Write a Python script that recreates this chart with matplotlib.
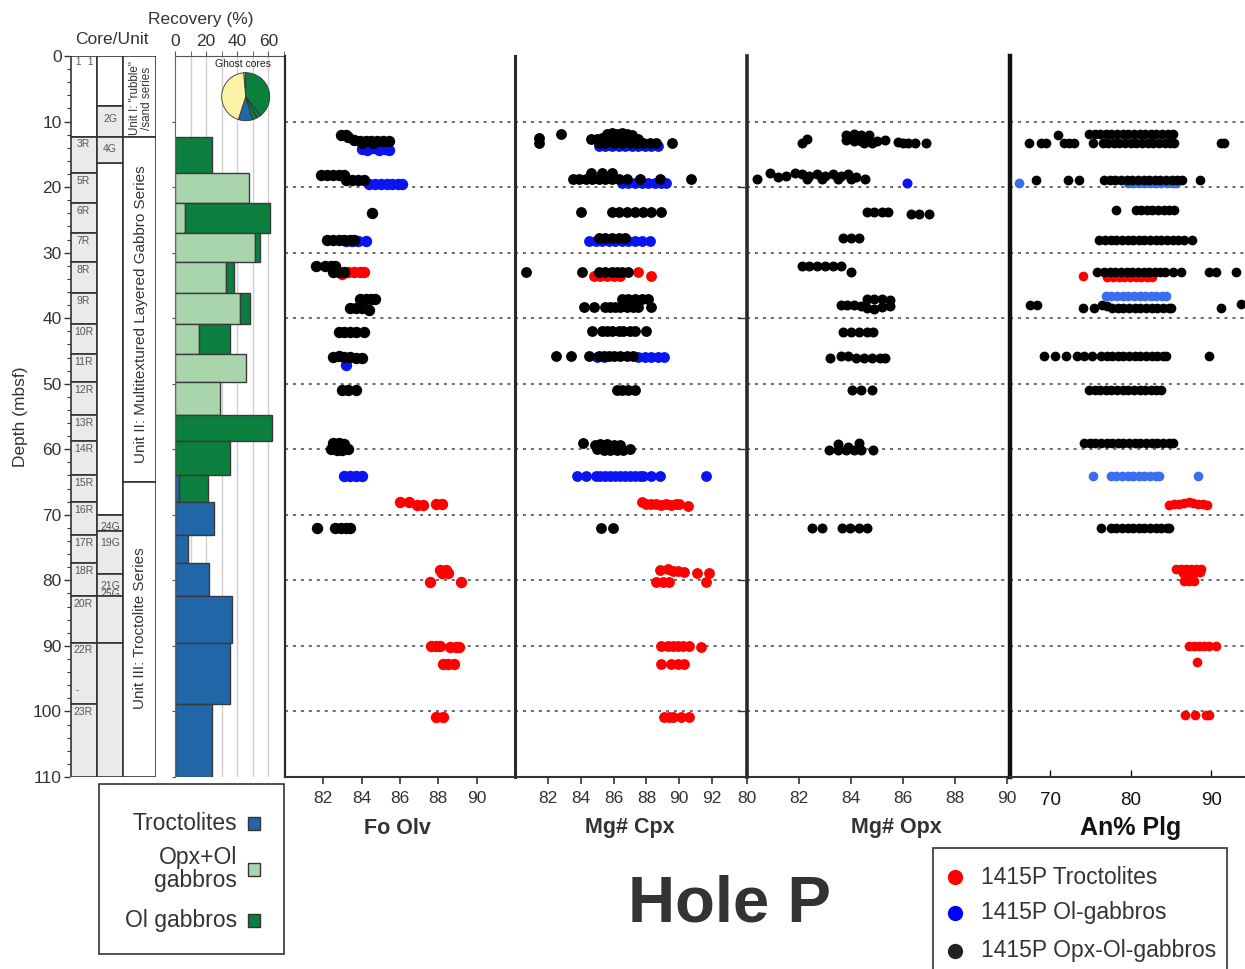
import matplotlib
matplotlib.use('Agg')
import matplotlib.pyplot as plt
from matplotlib.patches import Rectangle

plt.rcParams['font.family'] = ['Liberation Sans', 'DejaVu Sans']

# ---------------- data ----------------
core_names = ['3R', '5R', '6R', '7R', '8R', '9R', '10R', '11R', '12R', '13R', '14R',
              '15R', '16R', '17R', '18R', '20R', '22R', '23R']
core_tops = [12.3, 17.9, 22.5, 26.95, 31.4, 36.2, 40.9, 45.5, 49.7, 54.8, 58.8,
             63.9, 68.0, 73.1, 77.4, 82.4, 89.5, 98.9]
hole_bottom = 110.0

rec_troct = [0, 0, 0, 0, 0, 0, 0, 0, 0, 0, 0, 2.6, 25.2, 8.6, 22.1, 36.6, 35.0, 23.7]
rec_opxol = [0, 47.3, 6.5, 51.6, 32.7, 41.9, 15.5, 45.6, 29.0, 0, 0, 0, 0, 0, 0, 0, 0, 0]
rec_olgab = [23.7, 0, 54.3, 3.2, 5.3, 6.5, 20.0, 0, 0, 62.4, 35.0, 18.4, 0, 0, 0, 0, 0, 0]

ghost_names = ['2G', '4G', '24G', '19G', '21G\n25G', '', '']
ghost_tops = [7.7, 12.3, 70.0, 72.4, 79.0, 82.4, 89.5]
ghost_bots = [12.3, 16.3, 72.4, 79.0, 82.4, 89.5, 110.0]

unit_names = ['Unit I: "rubble"\n/sand series',
              'Unit II: Multitextured Layered Gabbro Series',
              'Unit III: Troctolite Series']
unit_tops = [0.0, 12.3, 65.0]
unit_bots = [12.3, 65.0, 110.0]

ghost_pie = [5, 142, 10, 12, 34, 157]

# Fo Olv
olv_red_x = [83.0, 83.3, 83.6, 83.9, 84.1, 86.0, 86.45, 86.9, 87.2, 87.9, 88.2,
             88.1, 88.4, 88.2, 88.5, 87.55, 89.2, 87.6, 87.9, 88.1, 88.6, 88.9, 89.1,
             88.25, 88.5, 88.8, 87.9, 88.25]
olv_red_d = [33.3, 33.0, 33.0, 33.0, 33.0, 68.1, 68.1, 68.5, 68.5, 68.3, 68.3,
             78.4, 78.4, 78.9, 78.9, 80.2, 80.2, 90.0, 90.0, 90.0, 90.2, 90.2, 90.2,
             92.75, 92.75, 92.75, 100.8, 100.8]
olv_blue_x = [84.0, 84.3, 84.6, 84.9, 85.2, 85.4, 84.4, 84.7, 85.0, 85.3, 85.6, 85.9, 86.1,
              83.2, 83.5, 83.8, 84.2, 83.2, 83.1, 83.4, 83.7, 84.0]
olv_blue_d = [14.2, 14.3, 14.1, 14.3, 14.2, 14.3, 19.5, 19.5, 19.5, 19.5, 19.5, 19.5, 19.5,
              28.3, 28.3, 28.3, 28.3, 47.1, 64.1, 64.1, 64.1, 64.1]
olv_blk_x = [82.9, 83.2, 83.3, 83.6, 83.9, 84.2, 84.5, 84.8, 85.1, 85.4, 84.0, 84.6,
             81.9, 82.2, 82.5, 82.8, 83.1, 83.2, 83.5, 83.8, 84.1,
             84.55, 82.2, 82.5, 82.8, 83.1, 83.4, 83.6,
             81.6, 82.1, 82.4, 82.6, 82.5, 82.8, 83.1,
             83.9, 84.2, 84.5, 84.7, 83.4, 83.7, 84.0, 84.4,
             82.8, 83.1, 83.4, 83.7, 84.1,
             82.5, 82.8, 83.1, 83.4, 83.7, 84.0,
             83.0, 83.3, 83.7,
             82.5, 82.8, 83.1, 82.4, 82.7, 83.0, 83.3,
             81.65, 82.6, 82.9, 83.2, 83.4]
olv_blk_d = [12.0, 12.0, 12.4, 12.8, 13.0, 13.0, 13.0, 13.0, 13.0, 12.9, 13.3, 13.3,
             18.2, 18.2, 18.2, 18.2, 18.2, 18.9, 18.9, 18.9, 18.9,
             24.0, 28.0, 28.0, 28.0, 28.0, 28.0, 28.0,
             32.0, 32.0, 32.0, 32.0, 33.0, 33.0, 33.0,
             37.1, 37.1, 37.1, 37.1, 38.5, 38.5, 38.5, 38.7,
             42.1, 42.1, 42.1, 42.1, 42.1,
             45.9, 45.7, 45.9, 45.9, 46.1, 46.1,
             51.0, 51.0, 51.0,
             59.1, 59.1, 59.2, 60.0, 60.1, 60.1, 60.0,
             72.06, 72.06, 72.06, 72.06, 72.06]

# Mg# Cpx
cpx_red_x = [84.8, 85.2, 85.6, 86.0, 86.4, 87.5, 88.25,
             87.7, 88.0, 88.3, 88.6, 88.9, 89.2, 89.5, 89.8, 90.0, 90.5,
             88.8, 89.3, 89.6, 89.9, 90.3, 91.05, 91.8, 88.6, 89.0, 89.4, 91.6,
             88.9, 89.3, 89.6, 89.9, 90.2, 90.6, 91.35,
             88.9, 89.5, 89.9, 90.3, 89.1, 89.4, 89.6, 90.1, 90.6]
cpx_red_d = [33.56, 33.56, 33.56, 33.56, 33.56, 32.9, 33.5,
             68.1, 68.3, 68.3, 68.4, 68.5, 68.3, 68.5, 68.3, 68.4, 68.6,
             78.4, 78.3, 78.6, 78.5, 78.7, 78.9, 78.9, 80.2, 80.2, 80.2, 80.2,
             90.0, 90.0, 90.0, 90.0, 90.0, 90.0, 90.2,
             92.75, 92.75, 92.75, 92.75, 100.8, 100.8, 100.8, 100.8, 100.8]
cpx_blue_x = [85.1, 85.5, 85.9, 86.3, 86.7, 87.1, 87.5, 87.9, 88.3, 88.7,
              86.5, 86.9, 87.3, 87.7, 88.1, 88.5, 88.9, 89.2,
              84.5, 84.9, 85.3, 85.7, 86.1, 86.5, 86.9, 87.3, 87.7, 88.2,
              85.0, 85.4, 87.5, 87.9, 88.3, 88.7, 89.1,
              83.75, 84.3, 84.9, 85.2, 85.5, 85.8, 86.1, 86.4, 86.7, 87.0, 87.3, 87.6,
              87.8, 88.3, 88.8, 91.65]
cpx_blue_d = [13.8] * 10 + [19.3] * 8 + [28.17] * 10 + [45.9] * 7 + [64.1] * 16
cpx_blk_x = [81.47, 81.47, 82.83,
             85.6, 85.9, 86.2, 86.5, 86.8, 87.1,
             84.6, 85.0, 85.3, 85.6, 86.0, 86.3, 86.6, 86.9, 87.2, 87.5,
             85.1, 85.5, 86.0, 86.5, 87.0, 87.4, 87.8, 88.2, 88.6, 89.55,
             84.6, 85.3, 85.9,
             83.5, 83.9, 84.3, 84.7, 85.1, 85.5, 85.9, 86.3, 86.8, 87.6, 88.8, 90.7,
             84.0, 85.9, 86.3, 86.8, 87.3, 87.8, 88.3, 88.9,
             85.1, 85.5, 85.9, 86.3, 86.7,
             80.65, 84.1, 85.1, 85.5, 85.9, 86.2, 86.5, 86.9,
             86.5, 86.9, 87.3, 87.7, 88.1,
             84.2, 84.8, 85.5, 85.8, 86.1, 86.4, 86.8, 87.2, 87.5, 88.3,
             84.7, 85.3, 85.6, 85.9, 86.3, 86.6, 87.0, 87.3, 88.0,
             82.5, 83.4, 84.5, 85.1, 85.4, 85.7, 86.0, 86.4, 86.8, 87.2,
             86.2, 86.5, 86.9, 87.3,
             84.16, 84.85, 85.2, 85.6, 86.0, 86.4, 85.0, 85.4, 85.8, 86.2, 86.6, 87.0,
             85.25, 85.95]
cpx_blk_d = [12.56, 13.2, 11.9,
             11.9, 11.8, 11.9, 11.8, 11.9, 12.0,
             12.6, 12.6, 12.5, 12.6, 12.5, 12.6, 12.5, 12.6, 12.5, 12.6,
             13.2, 13.2, 13.2, 13.2, 13.2, 13.2, 13.2, 13.2, 13.2, 13.2,
             17.9, 17.9, 17.9,
             18.76, 18.76, 18.76, 18.76, 18.76, 18.76, 18.76, 18.76, 18.76, 18.76, 18.76, 18.76,
             23.85, 23.85, 23.85, 23.85, 23.85, 23.85, 23.85, 23.85,
             27.8, 27.8, 27.8, 27.8, 27.8,
             32.9, 32.9, 32.9, 32.9, 32.9, 32.9, 32.9, 32.9,
             37.0, 37.0, 37.0, 37.0, 37.0,
             38.3, 38.3, 38.3, 38.3, 38.3, 38.3, 38.3, 38.3, 38.3, 38.3,
             42.0, 42.0, 42.0, 42.0, 42.0, 42.0, 42.0, 42.0, 42.0,
             45.8, 45.8, 45.8, 45.8, 45.8, 45.8, 45.8, 45.8, 45.8, 45.8,
             50.95, 50.95, 50.95, 50.95,
             59.1, 59.4, 59.2, 59.2, 59.3, 59.3, 60.0, 60.1, 60.1, 60.1, 60.1, 60.0,
             72.06, 72.06]

# Mg# Opx
opx_blue_x = [86.17]
opx_blue_d = [19.3]
opx_blk_x = [82.1, 82.3,
             83.8, 84.1, 84.4, 84.7, 83.8, 84.1, 84.4, 84.7, 85.0, 85.3, 84.5, 84.8,
             85.8, 86.0, 86.2, 86.45, 86.9,
             80.4, 80.9, 81.2, 81.5, 81.85, 82.1, 82.4, 82.7, 83.0, 83.3, 83.6, 83.9, 84.2,
             84.54, 82.3, 82.9, 83.5, 84.0,
             84.6, 84.9, 85.2, 85.43, 86.3, 86.6, 87.0,
             83.7, 84.0, 84.3,
             82.1, 82.4, 82.7, 83.0, 83.3, 83.6, 84.0,
             83.6, 83.85, 84.1, 84.4, 84.6, 84.9, 85.2, 85.5, 84.6, 84.9, 85.2, 85.5,
             83.7, 84.0, 84.3, 84.6, 84.86,
             83.2, 83.6, 83.9, 84.2, 84.5, 84.8, 85.1, 85.3,
             84.05, 84.4, 84.8,
             83.15, 83.5, 83.8, 84.1, 84.4, 84.85, 83.5, 84.3, 83.9,
             82.5, 82.9, 83.65, 83.95, 84.3, 84.6]
opx_blk_d = [13.2, 12.6,
             12.0, 11.9, 12.0, 12.1, 12.8, 12.9, 12.9, 13.0, 12.9, 12.8, 13.2, 13.2,
             13.1, 13.2, 13.2, 13.2, 13.2,
             18.8, 17.9, 18.5, 18.3, 17.9, 18.0, 18.3, 18.0, 18.3, 18.0, 18.3, 18.0, 18.4,
             18.8, 18.8, 18.8, 18.8, 18.8,
             23.85, 23.85, 23.85, 23.85, 24.1, 24.1, 24.1,
             27.8, 27.8, 27.8,
             32.0, 32.0, 32.0, 32.0, 32.0, 32.0, 32.9,
             38.0, 38.0, 38.0, 38.2, 37.1, 37.0, 37.0, 37.2, 38.4, 38.6, 38.3, 38.1,
             42.06, 42.06, 42.06, 42.06, 42.06,
             46.1, 45.8, 45.8, 46.0, 46.1, 46.1, 46.1, 46.1,
             50.95, 50.95, 50.95,
             60.1, 60.1, 60.1, 60.1, 60.1, 60.1, 59.2, 59.1, 59.6,
             72.06, 72.06, 72.06, 72.06, 72.06, 72.06]

# An% Plg
plg_red_x = [74.1, 77.1, 77.8, 78.5, 79.2, 79.9, 80.6, 81.3, 82.0, 82.7,
             84.8, 85.4, 86.0, 86.6, 87.2, 87.8, 88.4, 89.0, 89.5,
             85.6, 86.3, 86.9, 87.5, 88.1, 88.7, 86.5, 87.2, 87.9, 88.6,
             86.65, 87.3, 87.9,
             87.3, 87.9, 88.5, 89.1, 89.7, 90.6, 88.2,
             86.7, 87.97, 89.3, 89.75]
plg_red_d = [33.56] + [33.66] * 9 + \
            [68.5, 68.4, 68.3, 68.2, 68.1, 68.2, 68.3, 68.4, 68.5] + \
            [78.2, 78.2, 78.3, 78.2, 78.3, 78.2, 78.9, 78.9, 78.9, 78.8] + \
            [80.05] * 3 + [90.0] * 6 + [92.5] + [100.6] * 4
plg_blue_x = [66.15, 79.6, 80.3, 81.0, 81.7, 82.4, 83.1, 83.8, 84.5, 85.2, 85.6,
              76.9, 77.6, 78.3, 79.0, 79.7, 80.4, 81.1, 81.8, 82.5, 83.2, 83.9, 84.4,
              75.3, 77.5, 78.2, 78.9, 79.6, 80.3, 81.0, 81.7, 82.4, 83.1, 83.5, 88.3]
plg_blue_d = [19.4] + [19.45] * 10 + [36.6] * 12 + [64.1] * 12
plg_blk_x = [67.4, 68.8, 69.5, 71.0, 71.7, 72.3, 73.0, 75.3,
             74.8, 75.5, 76.2, 76.9, 77.6, 78.3, 79.0, 79.7, 80.4, 81.1, 81.8, 82.5, 83.2,
             83.9, 84.6, 85.3,
             76.5, 77.2, 77.9, 78.6, 79.3, 80.0, 80.7, 81.4, 82.1, 82.8, 83.5, 84.2, 84.9, 85.4,
             91.2, 91.6,
             68.2, 72.2, 73.6, 76.7, 77.4, 78.1, 78.8, 79.5, 80.2, 80.9, 81.6, 82.3, 83.0,
             83.7, 84.4, 85.1, 85.8, 86.4, 88.6,
             78.2, 80.6, 81.3, 82.0, 82.7, 83.4, 84.1, 84.8, 85.4,
             76.1, 76.8, 77.5, 78.2, 78.9, 79.6, 80.3, 81.0, 81.7, 82.4, 83.1, 83.8, 84.5,
             85.2, 85.9, 86.6, 87.6,
             75.75, 76.7, 77.4, 78.1, 78.8, 79.5, 80.2, 80.9, 81.6, 82.3, 83.0, 83.7, 84.2,
             85.2, 86.2, 89.75, 90.6, 93.1,
             67.5, 68.3, 74.1, 75.4, 76.4, 77.0, 77.7, 78.4, 79.1, 79.8, 80.5, 81.2, 81.9,
             82.6, 83.3, 84.0, 84.7, 85.0, 91.2, 93.7,
             69.2, 70.6, 71.9, 73.3, 74.2, 75.2, 76.3, 77.0, 77.7, 78.4, 79.1, 79.8, 80.5,
             81.2, 81.9, 82.6, 83.3, 84.0, 84.4, 89.7,
             74.8, 75.5, 76.2, 76.9, 77.6, 78.3, 79.0, 79.7, 80.4, 81.1, 81.8, 82.5, 83.2, 83.75,
             74.2, 74.9, 75.6, 76.3, 77.0, 77.7, 78.4, 79.1, 79.8, 80.5, 81.2, 81.9, 82.6,
             83.3, 84.0, 84.7, 85.2,
             76.3, 77.5, 78.2, 78.9, 79.6, 80.3, 81.0, 81.7, 82.4, 83.1, 83.8, 84.5, 84.8]
plg_blk_d = [13.3, 13.3, 13.3, 12.05, 13.3, 13.3, 13.3, 13.3] + [11.9] * 16 + [13.3] * 14 + \
            [13.3, 13.3] + [18.9] * 19 + [23.5] * 9 + [28.0] * 17 + [33.0] * 18 + \
            [38.0, 38.0, 38.5, 38.5, 38.0, 38.2] + [38.5] * 12 + [38.5, 37.9] + \
            [45.8] * 20 + [50.95] * 14 + [59.1] * 17 + [72.06] * 13

depth_lines = [10, 20, 30, 40, 50, 60, 70, 80, 90, 100]

# ---------------- styling ----------------
C_TROCT = '#2166a6'
C_OPXOL = '#a9d5ad'
C_OLGAB = '#0b7f3e'
C_YEL = '#fbf2a6'
C_TAN = '#c8c29a'
GRAY_BOX = '#e9eae9'
EDGE = '#333333'

W, H = 1245, 969
fig = plt.figure(figsize=(W / 100, H / 100), dpi=100)


def rect(x0, x1, y0=56, y1=777):
    return [x0 / W, 1 - y1 / H, (x1 - x0) / W, (y1 - y0) / H]


# ---------------- core / unit column ----------------
axc = fig.add_axes(rect(70, 156))
axc.set_xlim(70, 156)
axc.set_ylim(hole_bottom, 0)
for s in axc.spines.values():
    s.set_visible(False)
axc.set_xticks([])
axc.set_yticks(range(0, 111, 10))
axc.set_yticks(range(0, 111, 2), minor=True)
axc.tick_params(axis='y', which='major', length=4, width=1, color=EDGE, labelsize=12.5,
                labelcolor='#333333', pad=2)
axc.tick_params(axis='y', which='minor', length=2.2, width=0.8, color=EDGE)
axc.set_ylabel('Depth (mbsf)', fontsize=12.5, color='#333333', labelpad=3)

# column 1 (cores)
axc.add_patch(Rectangle((71, 0), 26, core_tops[0], facecolor='white', edgecolor=EDGE, lw=1.2))
axc.text(78.5, 0.9, '1', fontsize=7, color='#555555', ha='center', va='center')
axc.text(90, 0.9, '1', fontsize=7, color='#555555', ha='center', va='center')
for i, name in enumerate(core_names):
    top = core_tops[i]
    bot = core_tops[i + 1] if i + 1 < len(core_tops) else hole_bottom
    axc.add_patch(Rectangle((71, top), 26, bot - top, facecolor=GRAY_BOX, edgecolor=EDGE, lw=1.2))
    axc.text(83.5, top + 1.2, name, fontsize=7.5, color='#555555', ha='center', va='center')
axc.text(77, 96.8, '-', fontsize=7, color='#555555', ha='center', va='center')

# column 2 (ghost cores)
axc.add_patch(Rectangle((97, 0), 26, ghost_tops[0], facecolor='white', edgecolor=EDGE, lw=1.2))
axc.add_patch(Rectangle((97, ghost_bots[1]), 26, ghost_tops[2] - ghost_bots[1],
                        facecolor='white', edgecolor=EDGE, lw=1.2))
for name, top, bot in zip(ghost_names, ghost_tops, ghost_bots):
    axc.add_patch(Rectangle((97, top), 26, bot - top, facecolor=GRAY_BOX, edgecolor=EDGE, lw=1.2))
    if name:
        axc.text(110, top + 1.1, name, fontsize=7.5, color='#555555', ha='center', va='top',
                 linespacing=0.8)

# column 3 (units)
unit_fs = [8.4, 11, 11]
unit_shift = [0.3, 0.75, -0.2]
for name, top, bot, fs, sh in zip(unit_names, unit_tops, unit_bots, unit_fs, unit_shift):
    axc.add_patch(Rectangle((123, top), 33, bot - top, facecolor='white', edgecolor=EDGE, lw=1.2))
    axc.text(140.5, (top + bot) / 2 + sh, name, rotation=90, fontsize=fs,
             color='#333333', ha='center', va='center', linespacing=1.0)

# ---------------- recovery ----------------
axr = fig.add_axes(rect(175, 284))
axr.set_xlim(0, 70)
axr.set_ylim(hole_bottom, 0)
for g in range(10, 70, 10):
    axr.axvline(g, color='#cfcfcf', lw=1, zorder=0)
for i in range(len(core_tops)):
    top = core_tops[i]
    bot = core_tops[i + 1] if i + 1 < len(core_tops) else hole_bottom
    left = 0
    for val, col in ((rec_troct[i], C_TROCT), (rec_opxol[i], C_OPXOL), (rec_olgab[i], C_OLGAB)):
        if val > 0:
            axr.barh(top, val, height=bot - top, left=left, align='edge', color=col,
                     edgecolor='#3a3a3a', lw=1, zorder=2)
            left += val
axr.xaxis.tick_top()
axr.set_xticks([0, 20, 40, 60])
axr.set_xticks([10, 30, 50, 70], minor=True)
axr.tick_params(axis='x', which='both', length=3.5, color='#555555', labelsize=12.5,
                labelcolor='#333333', pad=1.5)
axr.set_yticks(range(10, 111, 10))
axr.tick_params(axis='y', length=2.5, color='#555555', labelleft=False)
axr.spines['bottom'].set_visible(False)
axr.spines['right'].set_visible(False)
axr.spines['left'].set_color('#666666')
axr.spines['top'].set_color('#555555')

# pie (ghost cores)
axp = fig.add_axes([(245.7 - 24.5) / W, 1 - (96.7 + 24.5) / H, 49 / W, 49 / H])
axp.pie(ghost_pie, colors=[C_TAN, C_OLGAB, C_OLGAB, C_OLGAB, C_TROCT, C_YEL],
        startangle=95, counterclock=False,
        wedgeprops=dict(edgecolor='#333333', linewidth=0.6))
axp.set_xlim(-1.02, 1.02)
axp.set_ylim(-1.02, 1.02)
axp.set_aspect('equal')

# ---------------- data panels ----------------
panels = [
    dict(x0=285, x1=515, xlim=(80, 92), ticks=[82, 84, 86, 88, 90], spw=1.6,
         red=(olv_red_x, olv_red_d), blue=(olv_blue_x, olv_blue_d), blk=(olv_blk_x, olv_blk_d),
         bluec='#0a14f0', ms=8.2),
    dict(x0=515, x1=745, xlim=(80, 94), ticks=[82, 84, 86, 88, 90, 92], spw=2.2,
         red=(cpx_red_x, cpx_red_d), blue=(cpx_blue_x, cpx_blue_d), blk=(cpx_blk_x, cpx_blk_d),
         bluec='#0a14f0', ms=7.8),
    dict(x0=747, x1=1007, xlim=(80, 90), ticks=[80, 82, 84, 86, 88, 90], spw=2.6,
         red=([], []), blue=(opx_blue_x, opx_blue_d), blk=(opx_blk_x, opx_blk_d),
         bluec='#0a14f0', ms=7.2),
    dict(x0=1010, x1=1245, xlim=(65, 94.2), ticks=[70, 80, 90], spw=3.2,
         red=(plg_red_x, plg_red_d), blue=(plg_blue_x, plg_blue_d), blk=(plg_blk_x, plg_blk_d),
         bluec='#3a6ef0', ms=7.0),
]
for k, p in enumerate(panels):
    ax = fig.add_axes(rect(p['x0'], p['x1']))
    ax.patch.set_alpha(0)
    ax.set_xlim(*p['xlim'])
    ax.set_ylim(hole_bottom, 0)
    for d in depth_lines:
        ax.axhline(d, color='#444444', lw=1.1, ls=(0, (2, 3.2)), zorder=0.5)
    ax.plot(p['red'][0], p['red'][1], 'o', color='#ff0000', ms=p['ms'], mec='none', zorder=2)
    ax.plot(p['blue'][0], p['blue'][1], 'o', color=p['bluec'], ms=p['ms'], mec='none', zorder=3)
    ax.plot(p['blk'][0], p['blk'][1], 'o', color='#000000', ms=p['ms'], mec='none', zorder=4)
    ax.spines['top'].set_visible(False)
    ax.spines['right'].set_visible(False)
    ax.spines['left'].set_linewidth(p['spw'])
    ax.spines['left'].set_color('#2a2a2a' if k < 3 else '#111111')
    ax.spines['bottom'].set_linewidth(1.5)
    ax.spines['bottom'].set_color('#333333')
    ax.set_xticks(p['ticks'])
    ax.set_yticks([])
    if k < 3:
        ax.tick_params(axis='x', direction='out', length=5, width=1.2, color='#333333',
                       labelsize=12.5, labelcolor='#333333', pad=5)
    else:
        ax.tick_params(axis='x', direction='in', length=5, width=1, color='#111111',
                       labelsize=13.5, labelcolor='#111111', pad=11)
    if k == 1:
        ax.yaxis.set_ticks_position('right')
        ax.set_yticks([20, 40, 60, 80, 100])
        ax.tick_params(axis='y', direction='in', length=5, width=1, color='#333333',
                       labelright=False)

# ---------------- overlay (titles, legends) ----------------
ov = fig.add_axes([0, 0, 1, 1])
ov.set_xlim(0, W)
ov.set_ylim(H, 0)
ov.axis('off')
ov.patch.set_alpha(0)

ov.text(201, 19, 'Recovery (%)', fontsize=12.5, color='#333333', ha='center', va='center')
ov.text(112, 39, 'Core/Unit', fontsize=12.5, color='#333333', ha='center', va='center')
ov.text(243, 64, 'Ghost cores', fontsize=7.5, color='#222222', ha='center', va='center')

ov.text(397, 828, 'Fo Olv', fontsize=15.5, fontweight='bold', color='#333333', ha='center', va='center')
ov.text(630, 828, 'Mg# Cpx', fontsize=15.5, fontweight='bold', color='#333333', ha='center', va='center')
ov.text(896, 828, 'Mg# Opx', fontsize=15.5, fontweight='bold', color='#333333', ha='center', va='center')
ov.text(1131, 828, 'An% Plg', fontsize=18, fontweight='bold', color='#111111', ha='center', va='center')

ov.text(729, 905, 'Hole P', fontsize=47, fontweight='bold', color='#333333', ha='center', va='center')

# lithology legend
ov.add_patch(Rectangle((99, 784), 185, 170, facecolor='white', edgecolor='#333333', lw=1.2))
lith_labels = ['Troctolites', 'Opx+Ol\ngabbros', 'Ol gabbros']
lith_colors = [C_TROCT, C_OPXOL, C_OLGAB]
lith_y = [823, 869, 920]
for lab, col, y in zip(lith_labels, lith_colors, lith_y):
    ov.text(237, y, lab, fontsize=16.5, color='#333333', ha='right', va='center', linespacing=0.95)
    ov.add_patch(Rectangle((248, y - 6.5), 11.5, 13, facecolor=col, edgecolor='#333333', lw=1))

# sample legend
ov.add_patch(Rectangle((933, 848), 294, 140, facecolor='white', edgecolor='#333333', lw=1.2,
                       clip_on=False))
samp_labels = ['1415P Troctolites', '1415P Ol-gabbros', '1415P Opx-Ol-gabbros']
samp_colors = ['#ff0000', '#0000ff', '#222222']
samp_y = [877, 913, 951]
for lab, col, y in zip(samp_labels, samp_colors, samp_y):
    ov.plot([955], [y], 'o', color=col, ms=11, mec='none')
    ov.text(981, y, lab, fontsize=16.5, color='#333333', ha='left', va='center')

fig.savefig('out.png', dpi=100)
